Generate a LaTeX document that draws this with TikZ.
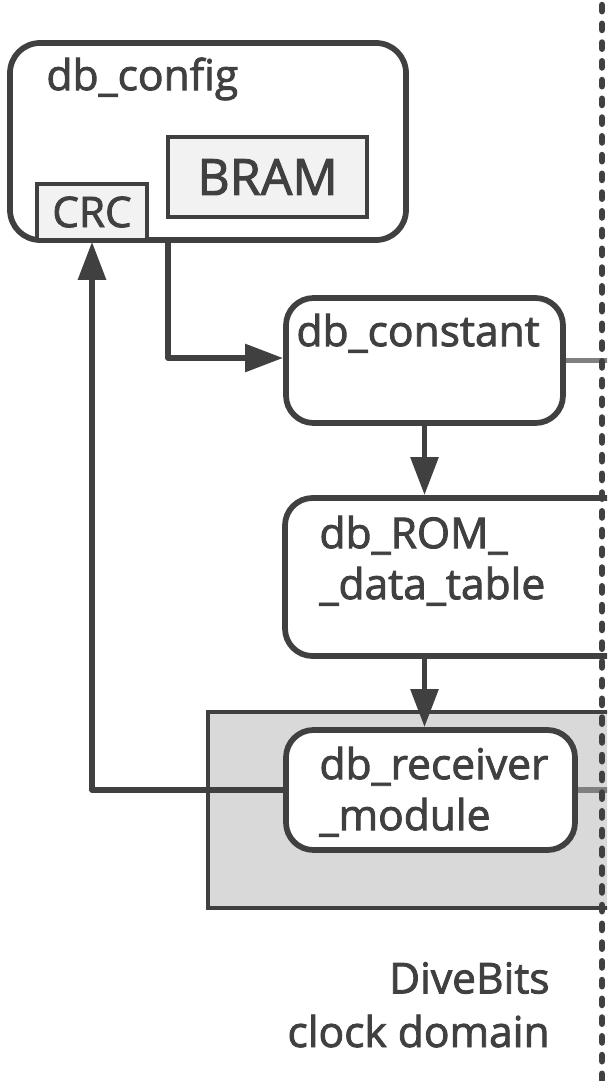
\documentclass[tikz,border=0pt]{standalone}
\usepackage{fontspec}
\setmainfont{Open Sans}[FakeBold=2]
\usetikzlibrary{arrows.meta, calc}
\definecolor{inkcol}{RGB}{64, 64, 64}
\definecolor{tapcol}{RGB}{128, 128, 128}
\definecolor{regioncol}{RGB}{217, 217, 217}
\definecolor{subcol}{RGB}{242, 242, 242}

\begin{document}
\begin{tikzpicture}[
    flow/.style={-{Triangle[length=7.6mm, width=5.4mm]}, draw=inkcol, line width=1.15mm, line join=round},
    tapwire/.style={draw=tapcol, line width=1.1mm},
    domainwire/.style={draw=inkcol, line width=1.3mm, line cap=round, dash pattern=on 1.25mm off 2.5mm},
    box/.style={draw=inkcol, line width=1.15mm, rounded corners=5.5mm, fill=white, inner sep=0pt},
    subbox/.style={draw=inkcol, line width=0.7mm, fill=subcol, inner sep=0pt, text=inkcol},
    regionbox/.style={draw=inkcol, line width=0.7mm, fill=regioncol, inner sep=0pt},
    boxlabel/.style={text=inkcol, inner sep=0pt, align=left, font=\fontsize{24.2}{29}\selectfont}
]
\useasboundingbox (0,0) rectangle (12.14,-21.62);
\clip (0,0) rectangle (12.14,-21.62);

% Receiver region (runs on past the right edge)
\node[regionbox, minimum width=8.64cm, minimum height=3.92cm] (region) at (8.48,-16.20) {};

% Config block with its memories
\node[box, rounded corners=6mm, minimum width=7.92cm, minimum height=3.94cm] (config) at (4.16,-2.83) {};
\node[subbox, minimum width=3.98cm, minimum height=1.60cm, font=\fontsize{28.5}{34}\selectfont] (bram) at (5.35,-3.54) {BRAM};
\node[subbox, minimum width=2.20cm, minimum height=1.12cm, font=\fontsize{24}{29}\selectfont] (crc) at (1.84,-4.24) {CRC};

% Main chain
\node[box, minimum width=5.54cm, minimum height=2.50cm] (const) at (8.49,-7.21) {};
\node[box, minimum width=7.10cm, minimum height=3.16cm] (rom)   at (9.25,-11.54) {};
\node[box, minimum width=5.78cm, minimum height=2.40cm] (recv)  at (8.61,-15.80) {};

% Labels, top left in each box (base = last line)
\node[boxlabel, anchor=base west] (configtxt) at ([xshift=7.8mm, yshift=-10.0mm]config.north west) {db\_config};
\node[boxlabel, anchor=base west] (consttxt)  at ([xshift=2.6mm, yshift=-10.2mm]const.north west) {db\_constant};
\node[boxlabel, anchor=base west] (romtxt)    at ([xshift=7.4mm, yshift=-20.8mm]rom.north west) {db\_ROM\_\\\_data\_table};
\node[boxlabel, anchor=base west] (recvtxt)   at ([xshift=7.2mm, yshift=-20.6mm]recv.north west) {db\_receiver\\\_module};

% Connections
\coordinate (cfgbend) at (3.36,-7.16);
\draw[flow] (config.south -| cfgbend) -- (cfgbend) -- (cfgbend -| const.west);
\draw[flow] (const.south) -- (const.south |- rom.north);
\draw[flow] (const.south |- rom.south) -- (const.south |- recv.north);
\draw[flow] (recv.west) -| (crc.south);

% Taps towards the other clock domain
\coordinate (tapedge) at (12.4,0);
\draw[tapwire] (const.east) -- (const.east -| tapedge);
\draw[tapwire] (recv.east) -- (recv.east -| tapedge);

% Clock domain border
\coordinate (domaintop) at (12.04,-0.10);
\coordinate (domainbot) at (12.04,-21.80);
\draw[domainwire] (domaintop) -- (domainbot);
\node[boxlabel, align=right, anchor=base east, font=\fontsize{24.2}{30.5}\selectfont] (domaintxt) at (11.00,-20.94) {DiveBits\\clock domain};

\end{tikzpicture}
\end{document}
